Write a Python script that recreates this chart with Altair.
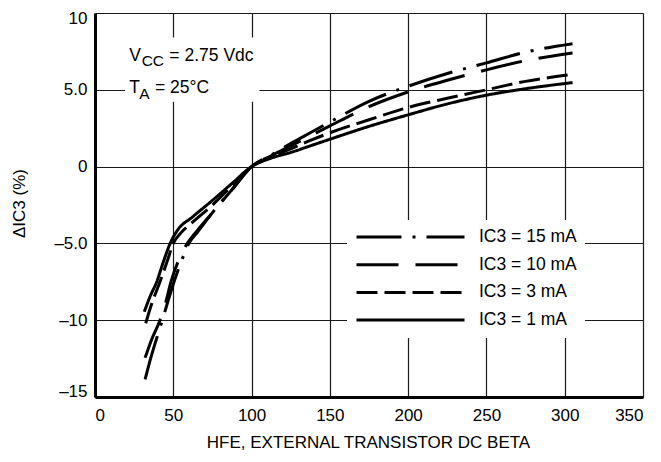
import altair as alt
import pandas as pd

# ---- data ----
series_labels = ["IC3 = 15 mA", "IC3 = 10 mA", "IC3 = 3 mA", "IC3 = 1 mA"]

hfe_15 = [32, 35.5, 43, 46.5, 50.5, 55, 60, 66, 75, 87.5, 100, 112.5, 125, 137.5, 150, 175, 200, 225, 250, 275, 305]
dic_15 = [-13.85, -12.5, -10.0, -8.8, -7.5, -6.2, -5.0, -4.2, -3.0, -1.5, 0, 0.75, 1.5, 2.2, 2.9, 4.25, 5.23, 6.06, 6.75, 7.45, 8.0]

hfe_10 = [32, 36, 41.5, 45, 48.5, 53, 59, 65, 75, 87.5, 100, 112.5, 125, 137.5, 150, 175, 200, 225, 250, 275, 305]
dic_10 = [-12.45, -11.3, -10.0, -8.9, -7.5, -6.2, -5.0, -4.2, -3.0, -1.5, 0, 0.7, 1.35, 2.0, 2.65, 3.9, 4.86, 5.62, 6.3, 6.9, 7.4]

hfe_3 = [32.4, 36, 41.5, 46, 50, 55, 62, 75, 88, 100, 112.5, 125, 137.5, 150, 175, 200, 225, 250, 275, 305]
dic_3 = [-10.2, -9.0, -7.5, -6.2, -5.0, -4.3, -3.65, -2.5, -1.2, 0, 0.62, 1.15, 1.7, 2.2, 3.05, 3.85, 4.45, 5.0, 5.55, 6.0]

hfe_1 = [31.5, 35, 39.4, 44, 48, 53, 62, 75, 88, 100, 112.5, 125, 137.5, 150, 175, 200, 225, 250, 275, 305]
dic_1 = [-9.45, -8.5, -7.5, -6.1, -5.0, -4.1, -3.3, -2.2, -1.05, 0, 0.55, 0.92, 1.35, 1.78, 2.62, 3.37, 4.08, 4.65, 5.07, 5.47]

x_ticks = [0, 25, 50, 75, 100, 125, 150, 175, 200, 225, 250, 275, 300, 325, 350]
y_ticks = [-15, -12.5, -10, -7.5, -5, -2.5, 0, 2.5, 5, 7.5, 10]

# annotation text (main size pieces and subscript pieces), data units
note_main_text = ["V", "= 2.75 Vdc", "T", "= 25°C"]
note_main_x = [21.9, 47.5, 21.9, 38.3]
note_main_y = [6.9, 6.9, 4.78, 4.78]
note_sub_text = ["CC", "A"]
note_sub_x = [29.8, 28.3]
note_sub_y = [6.56, 4.41]
note_box = {"x": [19.2], "x2": [105.0], "y": [8.4], "y2": [4.23]}

# ---- styles ----
dash_styles = [[45, 11, 3, 11], [42, 17], [21, 7], [1, 0]]
FONT = "Liberation Sans"

rows = []
for lab, xs, ys in zip(series_labels, [hfe_15, hfe_10, hfe_3, hfe_1], [dic_15, dic_10, dic_3, dic_1]):
    for xv, yv in zip(xs, ys):
        rows.append({"hfe": xv, "dic": yv, "series": lab})
df = pd.DataFrame(rows)

x_scale = alt.Scale(domain=[0, 350], nice=False, zero=False)
y_scale = alt.Scale(domain=[-15, 10], nice=False, zero=False)

x_axis = alt.Axis(
    values=x_ticks,
    labelExpr="datum.value % 50 != 0 ? '' : '' + datum.value",
    title="HFE, EXTERNAL TRANSISTOR DC BETA",
    titleX=273, titleY=50, titleAnchor="middle", titleAlign="center", titleBaseline="alphabetic",
    labelPadding=10,
)
y_axis = alt.Axis(
    values=y_ticks,
    labelExpr="datum.value % 5 != 0 ? '' : datum.value == 5 ? '5.0' : datum.value == -5 ? '–5.0' : datum.value < 0 ? '–' + abs(datum.value) : '' + datum.value",
    title="ΔIC3 (%)",
    titleX=-76, titleY=190, titleAngle=-90, titleAlign="center", titleBaseline="middle",
    labelPadding=8, labelFlush=True, labelFlushOffset=3,
)

lines = alt.Chart(df).mark_line(color="black", strokeWidth=3, interpolate="monotone").encode(
    x=alt.X("hfe:Q", scale=x_scale, axis=x_axis),
    y=alt.Y("dic:Q", scale=y_scale, axis=y_axis),
    strokeDash=alt.StrokeDash(
        "series:N",
        scale=alt.Scale(domain=series_labels, range=dash_styles),
        legend=alt.Legend(
            orient="none", legendX=252, legendY=207, title=None,
            fillColor="white", padding=8,
            symbolType="stroke", symbolSize=11664, symbolStrokeWidth=3,
            symbolStrokeColor="black", clipHeight=18,
            labelFont=FONT, labelFontSize=17.5, labelColor="black", labelOffset=13,
            rowPadding=9.7,
        ),
    ),
    detail="series:N",
)

box = alt.Chart(pd.DataFrame(note_box)).mark_rect(color="white").encode(
    x=alt.X("x:Q", scale=x_scale), x2="x2:Q",
    y=alt.Y("y:Q", scale=y_scale), y2="y2:Q",
)

main_df = pd.DataFrame({"t": note_main_text, "x": note_main_x, "y": note_main_y})
sub_df = pd.DataFrame({"t": note_sub_text, "x": note_sub_x, "y": note_sub_y})

main_txt = alt.Chart(main_df).mark_text(align="left", baseline="alphabetic", font=FONT, fontSize=17.5, color="black").encode(
    x=alt.X("x:Q", scale=x_scale), y=alt.Y("y:Q", scale=y_scale), text="t:N"
)
sub_txt = alt.Chart(sub_df).mark_text(align="left", baseline="alphabetic", font=FONT, fontSize=15.5, color="black").encode(
    x=alt.X("x:Q", scale=x_scale), y=alt.Y("y:Q", scale=y_scale), text="t:N"
)

chart = alt.layer(box, lines, main_txt, sub_txt).properties(
    width=548, height=384,
    autosize=alt.AutoSizeParams(type="none"),
    padding={"left": 87, "top": 5, "right": 10, "bottom": 60},
).configure_view(stroke=None).configure_axis(
    grid=True, gridColor="#1a1a1a", gridWidth=1.2,
    domainColor="black", domainWidth=3, ticks=False,
    labelFont=FONT, labelFontSize=17, labelColor="black",
    titleFont=FONT, titleFontSize=17, titleFontWeight="normal", titleColor="black",
)

chart.save("out.html", embed_options={"renderer": "svg", "actions": False})
